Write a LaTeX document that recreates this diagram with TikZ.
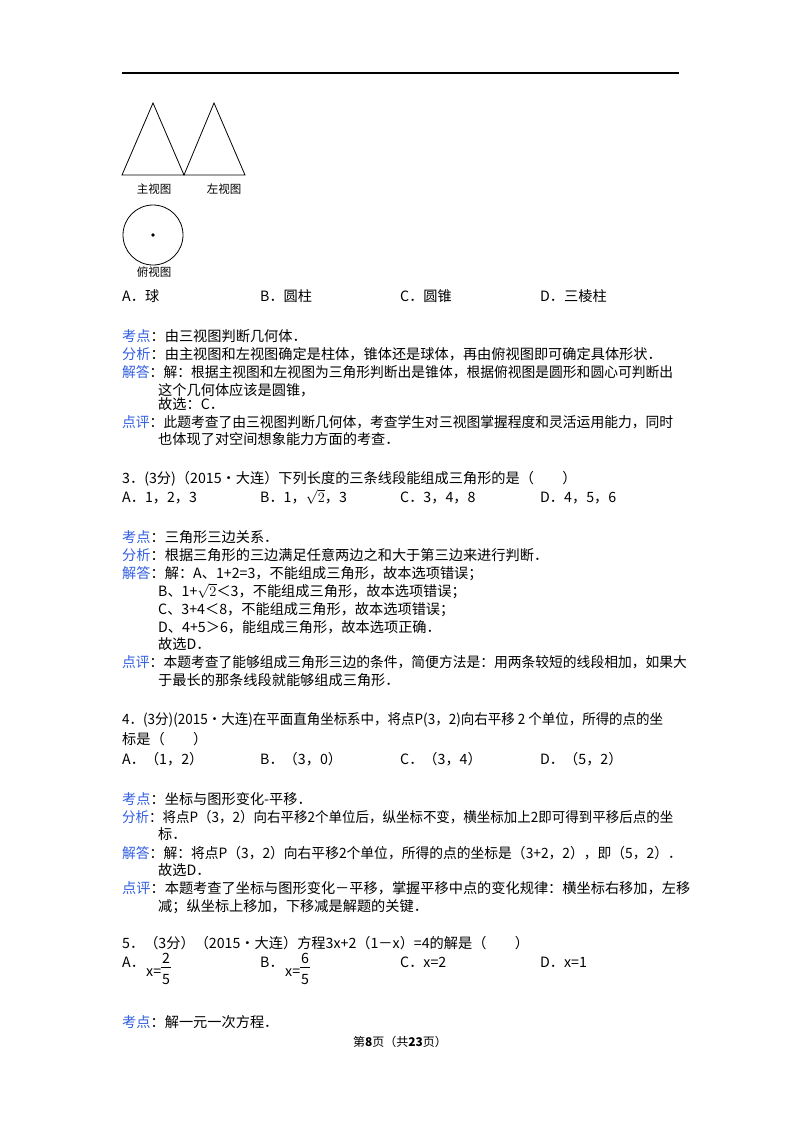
\documentclass[tikz,border=0pt]{standalone}
\usepackage{fontspec}
\setmainfont{Noto Sans CJK SC}
\definecolor{kblue}{RGB}{50,95,225}
\begin{document}
\begin{tikzpicture}[x=1pt,y=-1pt,
  t/.style={anchor=base west,inner sep=0pt,font=\fontsize{14.2}{16}\selectfont},
  sm/.style={anchor=base,inner sep=0pt,font=\fontsize{11.5}{12}\selectfont}]
\useasboundingbox[fill=white] (0,0) rectangle (800,1132);
\draw[line width=1pt] (122,73) -- (679,73);
\draw[line width=0.8pt] (153,103) -- (184,175) -- (122,175) -- cycle;
\draw[line width=0.8pt] (214,103) -- (245,175) -- (184,175) -- cycle;
\node[sm] (l1) at (154,193) {主视图};
\node[sm] (l2) at (224,193) {左视图};
\draw[line width=0.8pt] (153,235) circle (30);
\fill (153,235) circle (1.8);
\node[sm] (l3) at (154,276) {俯视图};
\newcommand\kk[1]{\textcolor{kblue}{#1}：}
\newcommand\sq[2]{\scalebox{#1}[1]{#2}}
\node[t] at (122,301) {A．球};
\node[t] at (260,301) {B．圆柱};
\node[t] at (400,301) {C．圆锥};
\node[t] at (540,301) {D．三棱柱};
\node[t] at (122,341) {\kk{考点}由三视图判断几何体．};
\node[t] at (122,359) {\kk{分析}由主视图和左视图确定是柱体，锥体还是球体，再由俯视图即可确定具体形状．};
\node[t] at (122,377) {\sq{0.97}{\kk{解答}解：根据主视图和左视图为三角形判断出是锥体，根据俯视图是圆形和圆心可判断出}};
\node[t] at (158,395) {这个几何体应该是圆锥，};
\node[t] at (158,409) {故选：C．};
\node[t] at (122,427) {\sq{0.97}{\kk{点评}此题考查了由三视图判断几何体，考查学生对三视图掌握程度和灵活运用能力，同时}};
\node[t] at (158,444) {也体现了对空间想象能力方面的考查．};
\node[t] at (122,483) {3．(3分)（2015•大连）下列长度的三条线段能组成三角形的是（　　）};
\node[t] at (122,502) {A．1，2，3};
\node[t] at (260,502) {B．1，$\sqrt{2}$，3};
\node[t] at (400,502) {C．3，4，8};
\node[t] at (540,502) {D．4，5，6};
\node[t] at (122,542) {\kk{考点}三角形三边关系．};
\node[t] at (122,560) {\kk{分析}根据三角形的三边满足任意两边之和大于第三边来进行判断．};
\node[t] at (122,578) {\kk{解答}解：A、1+2=3，不能组成三角形，故本选项错误；};
\node[t] at (158,596) {B、1+$\sqrt{2}$＜3，不能组成三角形，故本选项错误；};
\node[t] at (158,614) {C、3+4＜8，不能组成三角形，故本选项错误；};
\node[t] at (158,632) {D、4+5＞6，能组成三角形，故本选项正确．};
\node[t] at (158,649) {故选D．};
\node[t] at (122,667) {\sq{0.97}{\kk{点评}本题考查了能够组成三角形三边的条件，简便方法是：用两条较短的线段相加，如果大}};
\node[t] at (158,685) {于最长的那条线段就能够组成三角形．};
\node[t] at (122,724) {\sq{0.95}{4．(3分)(2015•大连)在平面直角坐标系中，将点P(3，2)向右平移 2 个单位，所得的点的坐}};
\node[t] at (122,744) {标是（　　）};
\node[t] at (122,764) {A．（1，2）};
\node[t] at (260,764) {B．（3，0）};
\node[t] at (400,764) {C．（3，4）};
\node[t] at (540,764) {D．（5，2）};
\node[t] at (122,804) {\kk{考点}坐标与图形变化-平移．};
\node[t] at (122,822) {\sq{0.95}{\kk{分析}将点P（3，2）向右平移2个单位后，纵坐标不变，横坐标加上2即可得到平移后点的坐}};
\node[t] at (158,839) {标．};
\node[t] at (122,858) {\sq{0.97}{\kk{解答}解：将点P（3，2）向右平移2个单位，所得的点的坐标是（3+2，2），即（5，2）．}};
\node[t] at (158,875) {故选D．};
\node[t] at (122,893) {\kk{点评}本题考查了坐标与图形变化－平移，掌握平移中点的变化规律：横坐标右移加，左移};
\node[t] at (158,911) {减；纵坐标上移加，下移减是解题的关键．};
\node[t] at (122,948) {5．（3分）（2015•大连）方程3x+2（1－x）=4的解是（　　）};
\node[t] at (122,967) {A．};
\node[t] at (146,976) {x=};
\node[t] at (162,963) {2};
\draw (161,967) -- (171,967);
\node[t] at (162,984) {5};
\node[t] at (260,967) {B．};
\node[t] at (285,976) {x=};
\node[t] at (301,963) {6};
\draw (300,967) -- (310,967);
\node[t] at (301,984) {5};
\node[t] at (400,967) {C．x=2};
\node[t] at (540,967) {D．x=1};
\node[t] at (122,1027) {\kk{考点}解一元一次方程．};
\node[anchor=base,inner sep=0pt,font=\fontsize{12}{13}\selectfont] (ft) at (400,1046) {第\textbf{8}页（共\textbf{23}页）};
\end{tikzpicture}
\end{document}
